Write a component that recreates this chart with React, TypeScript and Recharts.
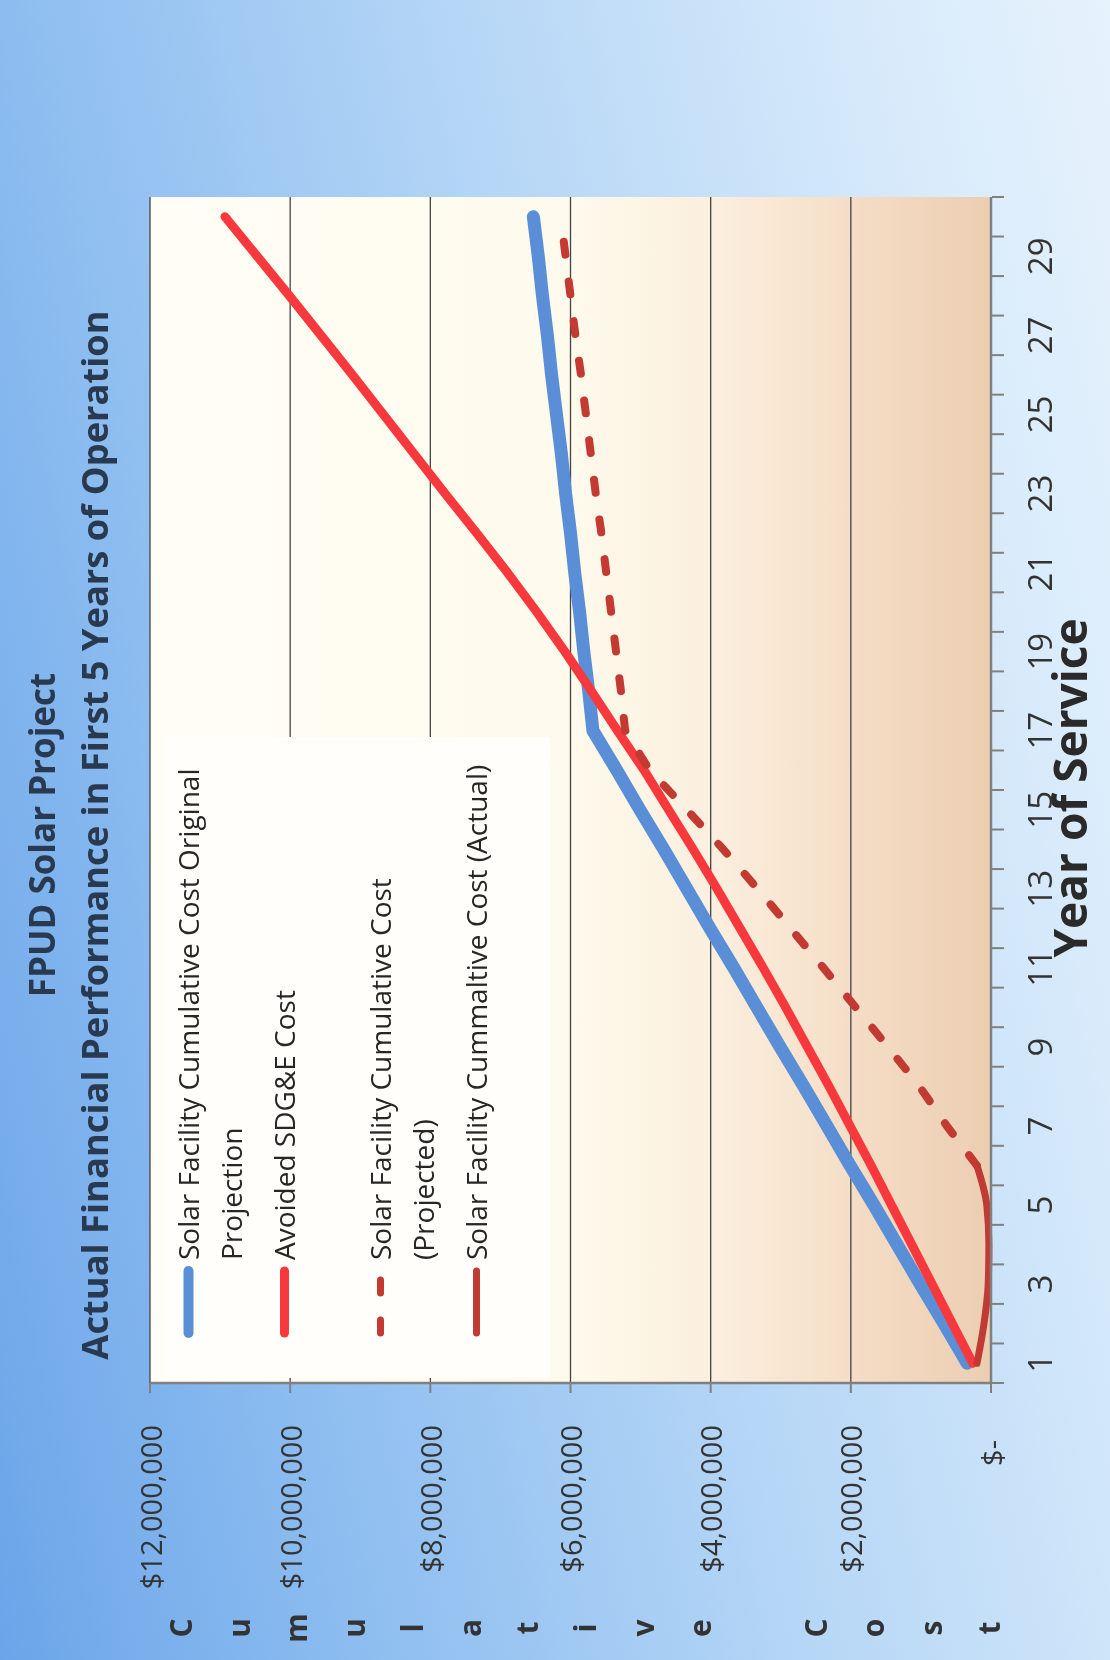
import React from "react";
import { LineChart, Line, XAxis, YAxis, CartesianGrid, Legend } from "recharts";

// cumulative dollars per year of service
const YEARS = [1, 2, 3, 4, 5, 6, 7, 8, 9, 10, 11, 12, 13, 14, 15, 16, 17, 18, 19, 20, 21, 22, 23, 24, 25, 26, 27, 28, 29, 30];

const ORIGINAL_PROJECTION = [
  340000, 670000, 1010000, 1340000, 1670000, 2010000, 2340000, 2670000, 3010000, 3340000,
  3670000, 4010000, 4340000, 4670000, 5010000, 5340000, 5680000, 5740000, 5810000, 5870000,
  5940000, 6000000, 6070000, 6130000, 6200000, 6270000, 6330000, 6400000, 6460000, 6530000,
];

const AVOIDED_SDGE = [
  260000, 550000, 840000, 1130000, 1420000, 1710000, 2010000, 2310000, 2620000, 2930000,
  3250000, 3580000, 3910000, 4250000, 4600000, 4950000, 5330000, 5700000, 6080000, 6480000,
  6900000, 7340000, 7790000, 8230000, 8670000, 9110000, 9560000, 10010000, 10470000, 10930000,
];

const PROJECTED = [
  null, null, null, null, null, 200000, 630000, 1020000, 1470000, 1930000,
  2390000, 2860000, 3330000, 3820000, 4340000, 4870000, 5220000, 5280000, 5350000, 5420000,
  5490000, 5560000, 5640000, 5710000, 5780000, 5850000, 5930000, 6000000, 6070000, 6140000,
];

const ACTUAL = [
  200000, 100000, 40000, 30000, 60000, 200000, null, null, null, null,
  null, null, null, null, null, null, null, null, null, null,
  null, null, null, null, null, null, null, null, null, null,
];

const VALUE_TICKS = [0, 2000000, 4000000, 6000000, 8000000, 10000000, 12000000];
const YEAR_LABELS = [1, 3, 5, 7, 9, 11, 13, 15, 17, 19, 21, 23, 25, 27, 29];
const YEAR_BOUNDS = [0.5, ...YEARS.map((y) => y + 0.5)];

const TITLE = "FPUD Solar Project";
const SUBTITLE = "Actual Financial Performance in First 5 Years of Operation";
const Y_TITLE = "Cumulative Cost";
const X_TITLE = "Year of Service";

const FONT = '"Open Sans", "Noto Sans", sans-serif';

const SERIES = [
  { key: "original", lines: ["Solar Facility Cumulative Cost Original", "Projection"], color: "#5a8fd8", width: 13, keyWidth: 10 },
  { key: "avoided", lines: ["Avoided SDG&E Cost"], color: "#f7383c", width: 9, keyWidth: 9 },
  { key: "projected", lines: ["Solar Facility Cumulative Cost", "(Projected)"], color: "#c23a32", width: 8, keyWidth: 7, dash: "13 27" },
  { key: "actual", lines: ["Solar Facility Cummaltive Cost (Actual)"], color: "#bf3b34", width: 7, keyWidth: 7, smooth: true },
];

const data = YEARS.map((year, i) => ({
  year,
  original: ORIGINAL_PROJECTION[i],
  avoided: AVOIDED_SDGE[i],
  projected: PROJECTED[i],
  actual: ACTUAL[i],
}));

function ValueTick(props: any) {
  const { x, y, payload } = props;
  const v = payload.value as number;
  const label = v === 0 ? "$-" : "$" + v.toLocaleString("en-US");
  return (
    <text x={v === 0 ? x - 15 : x} y={y} textAnchor="end" dominantBaseline="central"
      fontFamily={FONT} fontSize={29} fill="#333">
      {label}
    </text>
  );
}

function YearTick(props: any) {
  const { x, y, payload } = props;
  return (
    <text x={x} y={y + 48} textAnchor="middle" dominantBaseline="central"
      fontFamily={FONT} fontSize={33} fill="#333">
      {payload.value}
    </text>
  );
}

function NoLabel() {
  return null;
}

function StackedYLabel(props: any) {
  const vb = props.viewBox || { x: 37, y: 150 };
  const x = vb.x - 5;
  const y0 = vb.y + 30;
  return (
    <text textAnchor="middle" dominantBaseline="central" fontFamily={FONT}
      fontSize={30} fontWeight={700} fill="#333">
      {Array.from(Y_TITLE).map((ch, i) => (
        <tspan key={i} x={x} y={y0 + i * 57.7}>{ch}</tspan>
      ))}
    </text>
  );
}

function XTitle(props: any) {
  const vb = props.viewBox || { x: 277, y: 991, width: 1186 };
  return (
    <text x={vb.x + vb.width / 2 + 2} y={vb.y + 96} textAnchor="middle"
      fontFamily={FONT} fontSize={46} fontWeight={700} fill="#2a2a2a">
      {X_TITLE}
    </text>
  );
}

function LegendBox() {
  return (
    <div style={{
      width: 641, height: 385, background: "#fffefb", paddingTop: 2, boxSizing: "border-box",
      fontFamily: FONT, fontSize: 28, color: "#262626",
    }}>
      {SERIES.map((s) => (
        <div key={s.key} style={{ display: "flex", height: 96 }}>
          <svg width={118} height={43} style={{ flex: "none" }}>
            <line x1={45} x2={107} y1={21.5} y2={21.5} stroke={s.color} strokeWidth={s.keyWidth}
              strokeLinecap="round" strokeDasharray={s.dash} />
          </svg>
          <div style={{ lineHeight: "43px", whiteSpace: "nowrap" }}>
            {s.lines.map((l) => <div key={l}>{l}</div>)}
          </div>
        </div>
      ))}
    </div>
  );
}

export default function App() {
  return (
    <div style={{ position: "fixed", left: 0, top: 0, width: 1110, height: 1660, overflow: "hidden" }}>
      <div style={{
        position: "absolute", left: 0, top: 0, width: 1660, height: 1110,
        transformOrigin: "0 0", transform: "translateY(1660px) rotate(-90deg)",
        background: "linear-gradient(168deg, #6ba5e9 0%, #8dbdf0 25%, #b5d6f6 55%, #d9ebfb 85%, #e6f2fc 100%)",
      }}>
        <div style={{ position: "absolute", left: 0, top: 0 }}>
          <LineChart width={1660} height={1110} data={data}
            margin={{ top: 150, right: 197, bottom: 117, left: 37 }}>
            <defs>
              <linearGradient id="plotBg" x1="0" y1="0" x2="0" y2="1">
                <stop offset="0%" stopColor="#fffef6" />
                <stop offset="50%" stopColor="#fefaec" />
                <stop offset="68%" stopColor="#fbeedd" />
                <stop offset="85%" stopColor="#f4dcc4" />
                <stop offset="100%" stopColor="#ecceb2" />
              </linearGradient>
            </defs>
            <CartesianGrid vertical={false} stroke="#444" strokeWidth={1.3}
              fill="url(#plotBg)" fillOpacity={1} />
            <XAxis dataKey="year" type="number" domain={[0.5, 30.5]} ticks={YEAR_LABELS}
              interval={0} height={1} tickLine={false} tickSize={0} tickMargin={0}
              axisLine={{ stroke: "#808080", strokeWidth: 2.5 }} tick={<YearTick />}
              label={{ content: <XTitle /> }} />
            <XAxis xAxisId="minor" dataKey="year" type="number" domain={[0.5, 30.5]}
              ticks={YEAR_BOUNDS} interval={0} height={1} tick={<NoLabel />} tickSize={12}
              tickLine={{ stroke: "#808080", strokeWidth: 2 }} axisLine={false} />
            <YAxis type="number" domain={[0, 12000000]} ticks={VALUE_TICKS} interval={0}
              width={240} tickSize={10} tickMargin={32}
              axisLine={{ stroke: "#808080", strokeWidth: 2.5 }}
              tickLine={{ stroke: "#808080", strokeWidth: 2 }} tick={<ValueTick />}
              label={{ content: <StackedYLabel /> }} />
            {SERIES.map((s) => (
              <Line key={s.key} dataKey={s.key} name={s.lines.join(" ")}
                type={s.smooth ? "monotone" : "linear"} stroke={s.color} strokeWidth={s.width}
                strokeDasharray={s.dash} strokeLinecap="round" strokeLinejoin="round"
                dot={false} activeDot={false} isAnimationActive={false} />
            ))}
            <Legend layout="vertical" align="center" verticalAlign="middle"
              wrapperStyle={{ left: 282, top: 165, width: 641, height: 385 }}
              content={() => <LegendBox />} />
          </LineChart>
        </div>
        <div style={{
          position: "absolute", left: 0, top: 24, width: 1650, textAlign: "center",
          fontFamily: FONT, fontWeight: 700, fontSize: 35, lineHeight: "35px", color: "#293a50",
        }}>
          {TITLE}
        </div>
        <div style={{
          position: "absolute", left: 0, top: 76, width: 1650, textAlign: "center",
          fontFamily: FONT, fontWeight: 700, fontSize: 36.3, lineHeight: "36px", color: "#293a50",
        }}>
          {SUBTITLE}
        </div>
      </div>
    </div>
  );
}
